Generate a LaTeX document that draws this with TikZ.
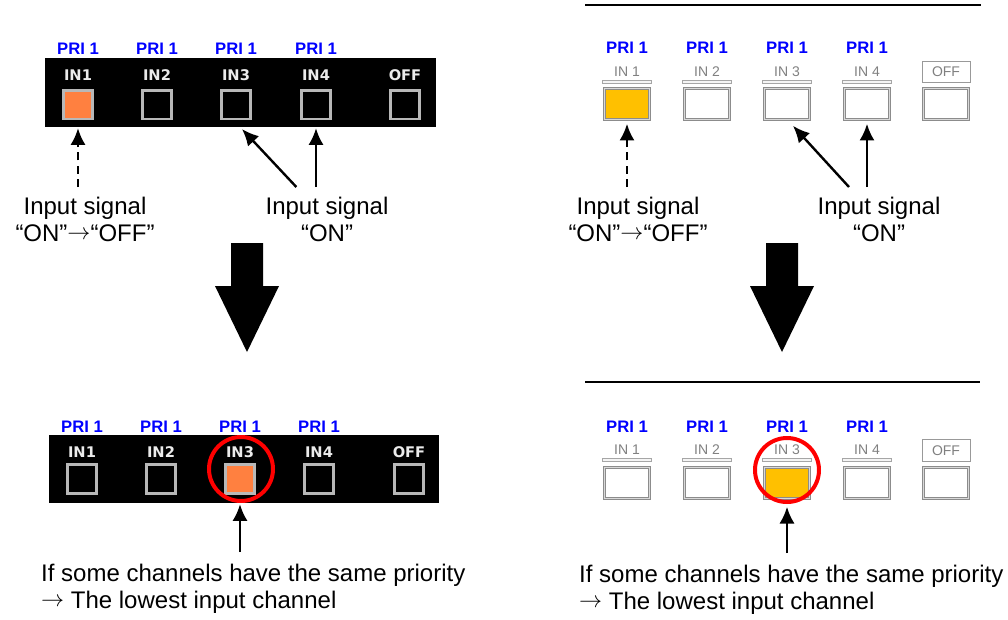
\documentclass[tikz,border=0pt]{standalone}
\usepackage{fontspec}
\setmainfont{Liberation Sans}
\newfontfamily\panelfont{DejaVu Sans}
\usetikzlibrary{arrows.meta,calc}
\definecolor{ledorange}{RGB}{255,128,64}
\definecolor{ledamber}{RGB}{255,192,0}
\newcommand{\sigarrow}{\smash{\raisebox{1.5pt}{$\rightarrow$}}}

\begin{document}
\begin{tikzpicture}[x=0.75pt,y=-0.75pt,line width=1.8pt,>={Latex[length=4.4mm,width=4mm]},
  pri/.style={inner sep=0pt,text=blue,font=\bfseries\fontsize{12.5}{14}\selectfont},
  darklbl/.style={inner sep=0pt,text=black!8,font=\panelfont\bfseries\fontsize{11}{13}\selectfont},
  darkbtn/.style={draw=black!28,line width=1.9pt,inner sep=0pt,minimum size=21.4pt},
  litelbl/.style={inner sep=0pt,text=black!50,font=\fontsize{10.5}{12}\selectfont},
  litebar/.style={draw=black!35,fill=black!4,line width=0.5pt,inner sep=0pt,minimum width=37pt,minimum height=2.6pt},
  litebtn/.style={draw=black!45,double=black!15,double distance=1.2pt,line width=0.6pt,inner sep=0pt,minimum width=33.6pt,minimum height=23.1pt},
  offbox/.style={draw=black!40,fill=white,line width=0.6pt,minimum width=36pt,minimum height=16pt},
  panel/.style={fill=black,inner sep=0pt},
  sig/.style={align=center,inner xsep=0pt,inner ysep=6.75pt,font=\fontsize{18}{20.25}\selectfont},
  note/.style={align=left,inner xsep=0pt,inner ysep=8.25pt,font=\fontsize{18}{20.25}\selectfont},
  ring/.style={circle,draw=red,line width=3pt,minimum size=48pt,inner sep=0pt}]
  \useasboundingbox (0,0) rectangle (1008,619);

  % left side: dark panel, before
  \node[panel,minimum width=293.25pt,minimum height=51.75pt] (lpanA) at (240.5,92.5) {};
  \foreach \x in {78,157,236,316} \node[pri] at (\x,49) {PRI 1};
  \foreach \x/\t/\c [count=\i] in {78/IN1/ledorange,157/IN2/black,236/IN3/black,316/IN4/black,405/OFF/black} {
    \node[darklbl] (ltl\i) at (\x,75) {\t};
    \node[darkbtn,fill=\c] (ltb\i) at (\x,104.5) {};
  }
  \node[sig,anchor=north] (lsigA) at (85,187) {Input signal\\“ON”\sigarrow“OFF”};
  \node[sig,anchor=north] (lsigB) at (327,187) {Input signal\\“ON”};
  \draw[->,dash pattern=on 6pt off 4pt] (ltb1 |- lsigA.north) -- (ltb1 |- lpanA.south);
  \draw[->] ([xshift=-23pt]lsigB.north) -- ($(ltb3.south)+(6,9)$);
  \draw[->] (ltb4 |- lsigB.north) -- (ltb4 |- lpanA.south);

  % left side: dark panel, after
  \node[panel,minimum width=292.5pt,minimum height=51pt] (lpanB) at (244,469) {};
  \foreach \x in {82,161,240,319} \node[pri] at (\x,427) {PRI 1};
  \foreach \x/\t/\c [count=\i] in {82/IN1/black,161/IN2/black,240/IN3/ledorange,319/IN4/black,409/OFF/black} {
    \node[darklbl] (lbl\i) at (\x,452) {\t};
    \node[darkbtn,fill=\c] (lbb\i) at (\x,479) {};
  }
  \node[ring] (lring) at (241,469) {};
  \node[note,anchor=north west] (lnote) at (40,552) {If some channels have the same priority\\\sigarrow{} The lowest input channel};
  \draw[->] (lbb3 |- lnote.north) -- (lbb3 |- lpanB.south);

  % right side: light panel, before
  \draw (585,5) -- (981,5);
  \foreach \x/\t/\c [count=\i] in {627/IN 1/ledamber,707/IN 2/white,787/IN 3/white,867/IN 4/white} {
    \node[pri] at (\x,48) {PRI 1};
    \node[litelbl] (rtl\i) at (\x,72) {\t};
    \node[litebar] (rtr\i) at (\x,82) {};
    \node[litebtn,fill=\c] (rtb\i) at (\x,104) {};
  }
  \node[litelbl,offbox] (rtl5) at (946,72) {OFF};
  \node[litebtn,fill=white] (rtb5) at (946,104) {};
  \node[sig,anchor=north] (rsigA) at (638,187) {Input signal\\“ON”\sigarrow“OFF”};
  \node[sig,anchor=north] (rsigB) at (879,187) {Input signal\\“ON”};
  \draw[->,dash pattern=on 6pt off 4pt] (rtb1 |- rsigA.north) -- ([yshift=-3pt]rtb1.south);
  \draw[->] ([xshift=-22.5pt]rsigB.north) -- ($(rtb3.south)+(6,6)$);
  \draw[->] (rtb4 |- rsigB.north) -- ([yshift=-3pt]rtb4.south);

  % right side: light panel, after
  \draw (585,382) -- (980,382);
  \foreach \x/\t/\c [count=\i] in {627/IN 1/white,707/IN 2/white,787/IN 3/ledamber,867/IN 4/white} {
    \node[pri] at (\x,427) {PRI 1};
    \node[litelbl] (rbl\i) at (\x,450) {\t};
    \node[litebar] (rbr\i) at (\x,460) {};
    \node[litebtn,fill=\c] (rbb\i) at (\x,483) {};
  }
  \node[litelbl,offbox] (rbl5) at (946,450.5) {OFF};
  \node[litebtn,fill=white] (rbb5) at (946,483) {};
  \node[ring] (rring) at (787,470) {};
  \node[note,anchor=north west] (rnote) at (578,553) {If some channels have the same priority\\\sigarrow{} The lowest input channel};
  \draw[->] (rbb3 |- rnote.north) -- ([yshift=-6pt]rbb3.south);

  % big arrows
  \foreach \c in {247,782}
    \fill (\c-16,243) -- (\c+16,243) -- (\c+16,286) -- (\c+32,286) -- (\c,352) -- (\c-32,286) -- (\c-16,286) -- cycle;
\end{tikzpicture}
\end{document}
